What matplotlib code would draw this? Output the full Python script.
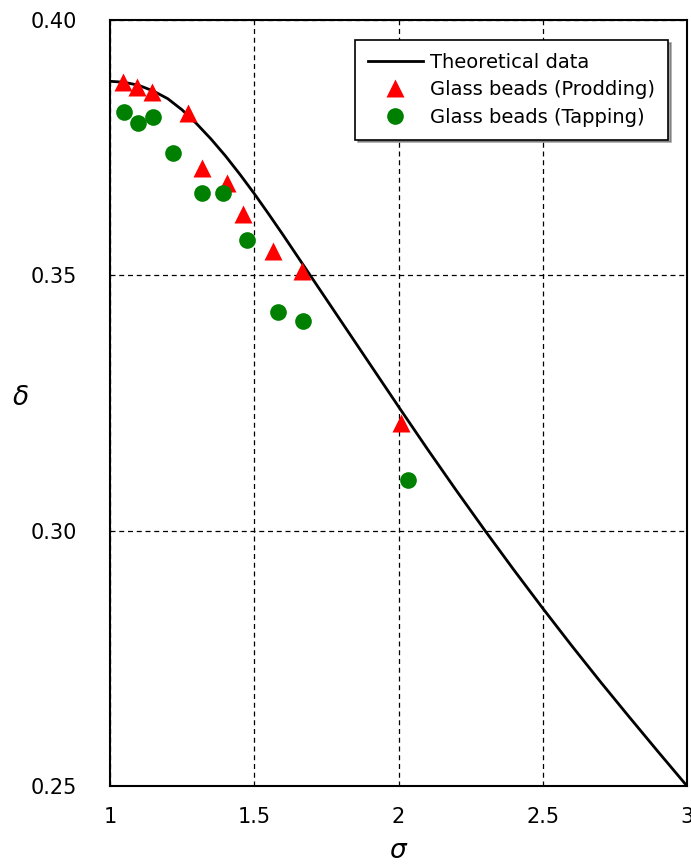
import numpy as np
import matplotlib
matplotlib.use("Agg")
import matplotlib.pyplot as plt
from matplotlib.ticker import FormatStrFormatter

# theoretical curve
theory_x = [1.0, 1.05, 1.1, 1.15, 1.2, 1.25, 1.3, 1.35, 1.4, 1.45, 1.5,
            1.55, 1.6, 1.65, 1.7, 1.75, 1.8, 1.85, 1.9, 1.95, 2.0,
            2.1, 2.2, 2.3, 2.4, 2.5, 2.6, 2.7, 2.8, 2.9, 3.0]
theory_y = [0.3880, 0.3878, 0.3872, 0.3861, 0.3846, 0.3824, 0.3797,
            0.3767, 0.3734, 0.3698, 0.3660, 0.3620, 0.3579, 0.3537,
            0.3495, 0.3453, 0.3411, 0.3369, 0.3327, 0.3285, 0.3243,
            0.3160, 0.3079, 0.3000, 0.2923, 0.2848, 0.2775, 0.2704,
            0.2635, 0.2567, 0.2500]

# glass beads, prodding
prod_x = [1.045, 1.094, 1.146, 1.270, 1.319, 1.406, 1.461, 1.565, 1.666, 2.009]
prod_y = [0.3879, 0.3869, 0.3859, 0.3818, 0.3710, 0.3681, 0.3620, 0.3548,
          0.3508, 0.3211]

# glass beads, tapping
tap_x = [1.049, 1.097, 1.149, 1.218, 1.319, 1.392, 1.475, 1.582, 1.669, 2.033]
tap_y = [0.3820, 0.3798, 0.3810, 0.3740, 0.3661, 0.3661, 0.3569, 0.3428,
         0.3410, 0.3099]

xticks = [1, 1.5, 2, 2.5, 3]
xticklabels = ["1", "1.5", "2", "2.5", "3"]
yticks = [0.25, 0.30, 0.35, 0.40]

plt.rcParams['font.family'] = ['DejaVu Sans']

fig = plt.figure(figsize=(6.91, 8.67), dpi=100)
ax = fig.add_axes([110/691, 1-786/867, 577/691, 766/867])

ax.plot(theory_x, theory_y, color="black", lw=2, label="Theoretical data",
        zorder=3)
ax.plot(prod_x, prod_y, ls="none", marker="^", ms=13, color="#ff0000",
        mec="none", label="Glass beads (Prodding)", zorder=4)
ax.plot(tap_x, tap_y, ls="none", marker="o", ms=12, color="#008000",
        mec="none", label="Glass beads (Tapping)", zorder=4)

ax.set_xlim(1, 3)
ax.set_ylim(0.25, 0.40)
ax.set_xticks(xticks)
ax.set_xticklabels(xticklabels)
ax.set_yticks(yticks)
ax.yaxis.set_major_formatter(FormatStrFormatter("%.2f"))
ax.tick_params(length=0, labelsize=15)
ax.tick_params(axis="y", pad=24)
ax.tick_params(axis="x", pad=15)
ax.grid(True, color="black", ls=(0, (4, 3)), lw=0.9)
for sp in ax.spines.values():
    sp.set_linewidth(1.5)

ax.set_xlabel(r"$\sigma$", fontsize=19, labelpad=8)
ax.set_ylabel(r"$\delta$", fontsize=19, rotation=0, labelpad=10)
ax.yaxis.set_label_coords(-0.155, 0.49)

leg = ax.legend(loc="upper right", bbox_to_anchor=(0.967, 0.974),
                borderaxespad=0, fontsize=14, frameon=True, fancybox=False,
                shadow=True, edgecolor="black", handlelength=2.8,
                handletextpad=0.4, labelspacing=0.45, borderpad=0.65,
                framealpha=1)
leg.get_frame().set_linewidth(1.2)

fig.savefig("out.png", dpi=100)
